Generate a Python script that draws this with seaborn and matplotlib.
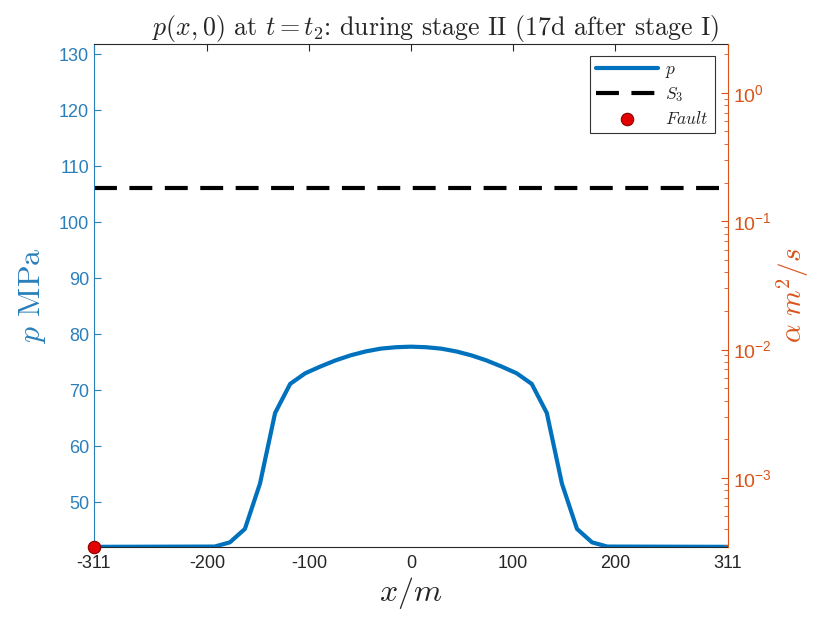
import numpy as np
import pandas as pd
import matplotlib
matplotlib.use("Agg")
import matplotlib.pyplot as plt
import matplotlib.ticker as mticker
import seaborn as sns

# pressure profile p(x,0) at t = t2
x_m = [-311, -192.6, -177.7, -162.9, -148.1, -133.3, -118.5, -103.7, -88.9, -74.0,
       -59.2, -44.4, -29.6, -14.8, 0, 14.8, 29.6, 44.4, 59.2, 74.0, 88.9, 103.7,
       118.5, 133.3, 148.1, 162.9, 177.7, 192.6, 311]
p_mpa = [42.0, 42.05, 42.8, 45.2, 53.3, 65.9, 71.1, 73.0, 74.2, 75.3,
         76.2, 76.9, 77.4, 77.65, 77.75, 77.65, 77.4, 76.9, 76.2, 75.3, 74.2, 73.0,
         71.1, 65.9, 53.3, 45.2, 42.8, 42.05, 42.0]
s3_level = 106.0
fault_x = [-311]
fault_p = [42.0]

xticks = [-311, -200, -100, 0, 100, 200, 311]
yticks_left = [50, 60, 70, 80, 90, 100, 110, 120, 130]

blue = "#0072BD"
orange = "#D95319"
tickblue = "#2a7fba"

sns.set_style("white")
plt.rcParams["font.family"] = ["Liberation Sans", "DejaVu Sans"]
plt.rcParams["mathtext.fontset"] = "cm"
plt.rcParams["xtick.direction"] = "in"
plt.rcParams["ytick.direction"] = "in"

df = pd.DataFrame({"x": x_m, "p": p_mpa})

fig = plt.figure(figsize=(8.17, 6.2), dpi=100)
ax = fig.add_axes([0.115, 0.118, 0.776, 0.811])

sns.lineplot(data=df, x="x", y="p", ax=ax, color=blue, linewidth=3, label="$p$",
             zorder=3)
ax.axhline(s3_level, color="black", linestyle=(0, (5.5, 3)), linewidth=3, label="$S_3$")
sns.scatterplot(x=fault_x, y=fault_p, ax=ax, color="#e30000", edgecolor="#8a0000",
                s=80, linewidth=0.8, label="$Fault$", clip_on=False, zorder=6)

ax.set_xlim(-311, 311)
ax.set_ylim(42, 131.8)
ax.set_xticks(xticks)
ax.set_xticklabels([str(t) for t in xticks])
ax.set_yticks(yticks_left)

ax.tick_params(axis="x", colors="#262626", labelsize=13, length=5, width=0.8,
               top=True, pad=6)
ax.tick_params(axis="y", colors=tickblue, labelsize=13, length=5, width=0.8)

ax.spines["left"].set_color(tickblue)
ax.spines["bottom"].set_color("#262626")
ax.spines["top"].set_color("#262626")
ax.spines["right"].set_visible(False)
for s in ax.spines.values():
    s.set_linewidth(0.8)

ax.set_xlabel("$x/m$", fontsize=23, color="#262626", labelpad=2)
ax.set_ylabel("$p$ MPa", fontsize=23, color=tickblue, fontfamily="cmr10", labelpad=8)
ax.set_title("$p(x,0)$ at $t=t_2$: during stage II (17d after stage I)",
             fontsize=18.6, fontfamily="cmr10", color="#262626", pad=6, x=0.539)

ax2 = ax.twinx()
ax2.set_position(ax.get_position())
ax2.set_yscale("log")
ax2.set_ylim(2.9e-4, 2.4)
ax2.yaxis.set_major_locator(mticker.LogLocator(base=10, numticks=10))
ax2.yaxis.set_minor_locator(mticker.LogLocator(base=10, subs=np.arange(2, 10), numticks=10))
ax2.yaxis.set_major_formatter(mticker.FuncFormatter(
    lambda v, pos: "$\\mathregular{10^{%d}}$" % int(round(np.log10(v)))))
ax2.yaxis.set_minor_formatter(mticker.NullFormatter())
ax2.tick_params(axis="y", which="major", colors=orange, labelsize=14, length=5, width=0.8)
ax2.tick_params(axis="y", which="minor", colors=orange, length=3, width=0.6)
for side in ["left", "top", "bottom"]:
    ax2.spines[side].set_visible(False)
ax2.spines["right"].set_color(orange)
ax2.spines["right"].set_linewidth(0.8)
ax2.set_ylabel("$\\alpha\\ m^2/s$", fontsize=21, color=orange, labelpad=2)

leg = ax.legend(loc="upper right", bbox_to_anchor=(0.979, 0.976), borderaxespad=0,
                fontsize=12.5, frameon=True, fancybox=False, edgecolor="black",
                handlelength=3.6, borderpad=0.35, labelspacing=0.3, handletextpad=0.4)
leg.get_frame().set_linewidth(0.8)
leg.set_zorder(10)

fig.savefig("out.png", dpi=100)
